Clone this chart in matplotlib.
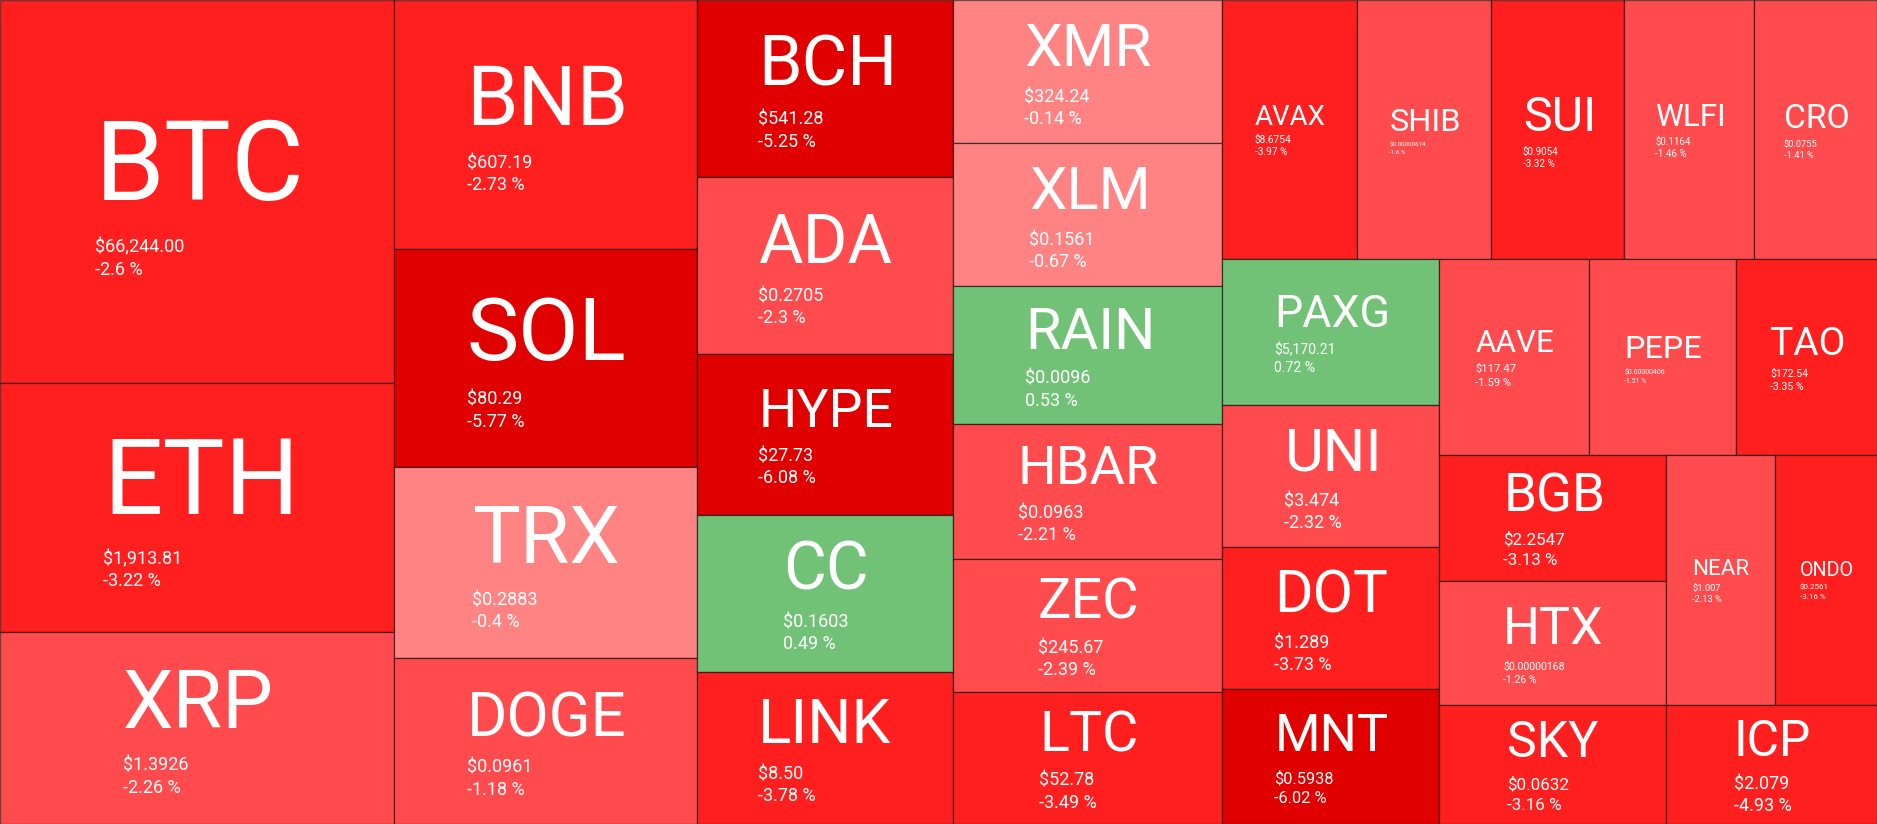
import matplotlib
matplotlib.use("Agg")
import matplotlib.pyplot as plt
from matplotlib.patches import Rectangle
from matplotlib.textpath import TextPath
from matplotlib.font_manager import FontProperties

# coins in the order the treemap lays them out
symbols = ["BTC", "ETH", "XRP", "BNB", "SOL", "TRX", "DOGE", "BCH", "ADA", "HYPE",
           "CC", "LINK", "XMR", "XLM", "RAIN", "HBAR", "ZEC", "LTC", "AVAX", "SHIB",
           "SUI", "WLFI", "CRO", "PAXG", "UNI", "DOT", "MNT", "AAVE", "PEPE", "TAO",
           "BGB", "HTX", "SKY", "NEAR", "ONDO", "ICP"]

# tile weights (relative area of each tile)
weights = [150900, 98100, 75650, 75400, 66000, 58000, 50150, 45400, 45400, 41100,
           40150, 39050, 38650, 38350, 37100, 36450, 35800, 35600, 34950, 34700,
           34350, 33800, 31800, 31600, 30900, 30900, 29200, 29300, 28950, 27550,
           28550, 28100, 27100, 27300, 25550, 25000]

prices = ["$66,244.00", "$1,913.81", "$1.3926", "$607.19", "$80.29", "$0.2883", "$0.0961",
          "$541.28", "$0.2705", "$27.73", "$0.1603", "$8.50", "$324.24", "$0.1561",
          "$0.0096", "$0.0963", "$245.67", "$52.78", "$8.6754", "$0.00000614", "$0.9054",
          "$0.1164", "$0.0755", "$5,170.21", "$3.474", "$1.289", "$0.5938", "$117.47",
          "$0.00000406", "$172.54", "$2.2547", "$0.00000168", "$0.0632", "$1.007",
          "$0.2561", "$2.079"]

changes = [-2.6, -3.22, -2.26, -2.73, -5.77, -0.4, -1.18, -5.25, -2.3, -6.08,
           0.49, -3.78, -0.14, -0.67, 0.53, -2.21, -2.39, -3.49, -3.97, -1.6,
           -3.32, -1.46, -1.41, 0.72, -2.32, -3.73, -6.02, -1.59, -1.51, -3.35,
           -3.13, -1.26, -3.16, -2.13, -3.16, -4.93]

W, H = 1877, 824
SQUARE_RATIO = 1.7


def color_for(ch):
    if ch <= -5:
        return "#E10000"
    if ch <= -2.5:
        return "#FF1F1F"
    if ch <= -1:
        return "#FF4B4D"
    if ch < 0:
        return "#FF8383"
    return "#71C276"


def squarify(values, x, y, w, h, ratio):
    total = float(sum(values))
    areas = [v / total * w * h for v in values]
    rect = [x, y, w, h]
    out = [None] * len(values)

    def worst(row, L):
        s = sum(areas[j] for j in row)
        amax = max(areas[j] for j in row)
        amin = min(areas[j] for j in row)
        f = L * L * ratio
        return max(f * amax / (s * s), s * s / (f * amin))

    def position(row, L, flush):
        s = sum(areas[j] for j in row)
        horiz = (L == rect[2])
        other = s / L
        limit = rect[3] if horiz else rect[2]
        if flush or other > limit:
            other = limit
        pos = rect[0] if horiz else rect[1]
        end = (rect[0] + rect[2]) if horiz else (rect[1] + rect[3])
        for k, j in enumerate(row):
            step = areas[j] / other
            remain = end - pos
            if k == len(row) - 1 or remain < step:
                step = remain
            if horiz:
                out[j] = (pos, rect[1], step, other)
            else:
                out[j] = (rect[0], pos, other, step)
            pos += step
        if horiz:
            rect[1] += other
            rect[3] -= other
        else:
            rect[0] += other
            rect[2] -= other

    L = min(rect[2], rect[3])
    row = []
    best = float("inf")
    i = 0
    while i < len(values):
        row.append(i)
        score = worst(row, L)
        if score <= best:
            i += 1
            best = score
        else:
            row.pop()
            position(row, L, False)
            L = min(rect[2], rect[3])
            row = []
            best = float("inf")
    if row:
        position(row, L, True)
    return out


fp = FontProperties(family="Roboto")


def ink_width(s, size):
    ext = TextPath((0, 0), s, size=size, prop=fp).get_extents()
    return ext.x1


fig = plt.figure(figsize=(W / 100, H / 100), dpi=100)
ax = fig.add_axes([0, 0, 1, 1])
ax.set_xlim(0, W)
ax.set_ylim(H, 0)
ax.axis("off")

tiles = squarify(weights, 0, 0, W, H, SQUARE_RATIO)
PX2PT = 72 / 100

for sym, pr, ch, (x, y, w, h) in zip(symbols, prices, changes, tiles):
    ax.add_patch(Rectangle((x, y), w, h, facecolor=color_for(ch),
                           edgecolor=(0, 0, 0, 0.6), linewidth=0.9))
    chs = f"{ch} %"
    fs_sym = min(0.52 * w / (ink_width(sym, 1.0)), 0.42 * h)
    em_small = max(ink_width(pr, 1.0), ink_width(chs, 1.0))
    fs_p = min(0.27 * w / em_small, 18)

    L1 = 1.17 * fs_sym
    L2 = 1.22 * fs_p
    cx = x + w / 2
    cy = y + h / 2
    top = cy - (L1 + 2 * L2) / 2
    bw = max(ink_width(sym, fs_sym), ink_width(pr, fs_p), ink_width(chs, fs_p))
    left = cx - bw / 2

    ax.text(left, top + L1 / 2 + 0.275 * fs_sym, sym, color="white",
            fontsize=fs_sym * PX2PT, family="Roboto", ha="left", va="baseline")
    ax.text(left, top + L1 + L2 / 2 + 0.355 * fs_p, pr, color="white",
            fontsize=fs_p * PX2PT, family="Roboto", ha="left", va="baseline")
    ax.text(left, top + L1 + 1.5 * L2 + 0.355 * fs_p, chs, color="white",
            fontsize=fs_p * PX2PT, family="Roboto", ha="left", va="baseline")

fig.savefig("out.png", dpi=100)
